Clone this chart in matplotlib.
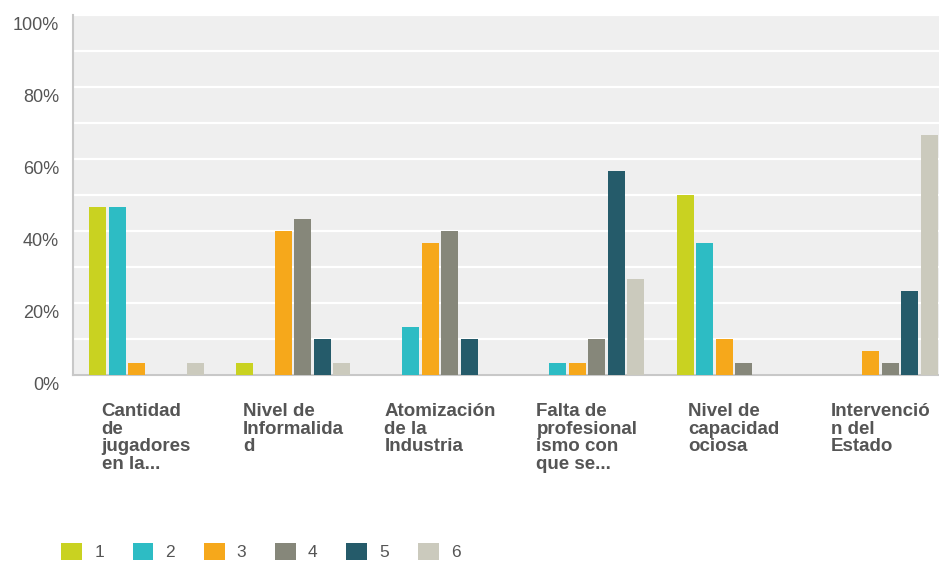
import numpy as np
import matplotlib
matplotlib.use("Agg")
import matplotlib.pyplot as plt
from matplotlib.patches import Patch
from matplotlib.transforms import ScaledTranslation, blended_transform_factory

plt.rcParams["font.family"] = ["Liberation Sans", "DejaVu Sans"]

categories = [
    "Cantidad\nde\njugadores\nen la...",
    "Nivel de\nInformalida\nd",
    "Atomización\nde la\nIndustria",
    "Falta de\nprofesional\nismo con\nque se...",
    "Nivel de\ncapacidad\nociosa",
    "Intervenció\nn del\nEstado",
]
series_names = ["1", "2", "3", "4", "5", "6"]

# percentage of answers per rank, one list per rank
rank_1 = [46.67, 3.33, 0.0, 0.0, 50.0, 0.0]
rank_2 = [46.67, 0.0, 13.33, 3.33, 36.67, 0.0]
rank_3 = [3.33, 40.0, 36.67, 3.33, 10.0, 6.67]
rank_4 = [0.0, 43.33, 40.0, 10.0, 3.33, 3.33]
rank_5 = [0.0, 10.0, 10.0, 56.67, 0.0, 23.33]
rank_6 = [3.33, 3.33, 0.0, 26.67, 0.0, 66.67]
series = [rank_1, rank_2, rank_3, rank_4, rank_5, rank_6]

colors = ["#c9d221", "#2dbcc4", "#f6a81b", "#86877a", "#255b6a", "#cbcabd"]
text_color = "#555555"

fig = plt.figure(figsize=(9.39, 5.62), dpi=100)
W, H = 939, 562
ax = fig.add_axes([73 / W, 187 / H, 881 / W, 360 / H])
ax.set_facecolor("#efefef")

x = np.arange(len(categories))
step = 0.1327
width = 0.1157
for k, (name, vals) in enumerate(zip(series_names, series)):
    ax.bar(x + (k - 2.5) * step, vals, width, color=colors[k], label=name, zorder=3)

ax.set_xlim(-0.5, len(categories) - 0.5)
ax.set_ylim(0, 100)
ax.set_yticks(range(0, 101, 20))
ax.set_yticklabels([f"{v}%" for v in range(0, 101, 20)], color=text_color, fontsize=13)
ax.set_yticks(range(0, 101, 10), minor=True)
ax.grid(axis="y", which="both", color="white", linewidth=1.6, zorder=1)
ax.tick_params(axis="y", which="both", length=0, pad=10)
ax.set_xticks([])

shift = ScaledTranslation(0, -8 / 100, fig.dpi_scale_trans)
for lbl in ax.get_yticklabels():
    lbl.set_transform(lbl.get_transform() + shift)

for side in ["top", "right"]:
    ax.spines[side].set_visible(False)
for side in ["left", "bottom"]:
    ax.spines[side].set_color("#c8c8c8")
    ax.spines[side].set_linewidth(1.5)

# category names under each group: block centred, lines left aligned
trans = blended_transform_factory(ax.transData, ax.transAxes)
for i, cat in enumerate(categories):
    ax.text(i, -0.078, cat, transform=trans, ha="center", va="top", multialignment="left",
            fontsize=13.5, fontweight="bold", color=text_color, linespacing=1.04)

handles = [Patch(facecolor=c, edgecolor="none") for c in colors]
fig.legend(handles, series_names, loc="upper left", bbox_to_anchor=(56 / W, 1 - 538 / H),
           ncol=6, frameon=False, fontsize=12.5, handlelength=1.2, handleheight=1.1,
           handletextpad=0.7, columnspacing=1.65, labelcolor=text_color,
           borderaxespad=0, borderpad=0.3)

fig.savefig("out.png", dpi=100)
